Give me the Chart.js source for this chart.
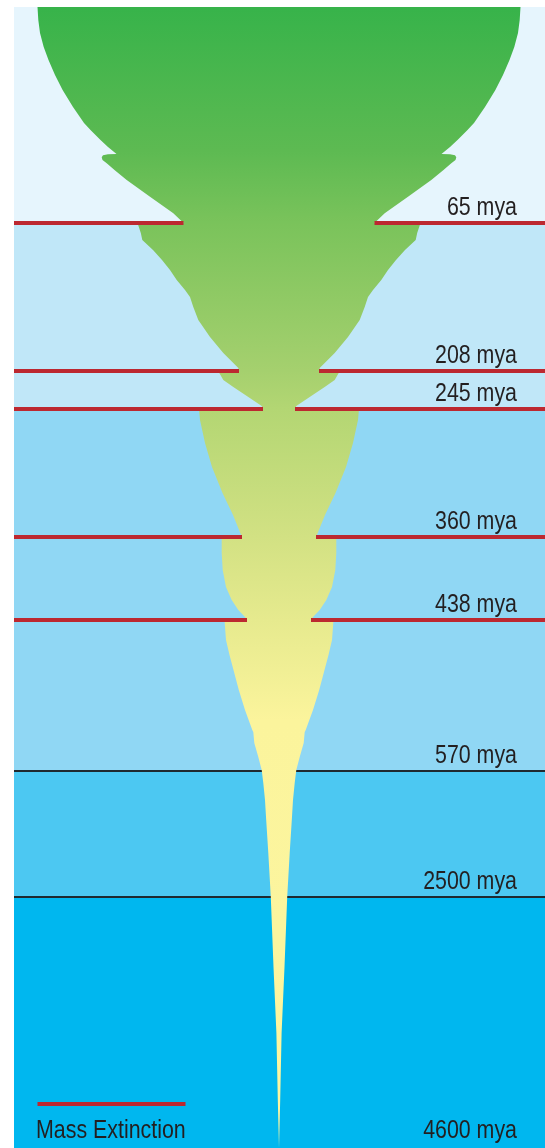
<!DOCTYPE html>
<html>
<head>
<meta charset="utf-8">
<title>Diversidad de la vida</title>
<script src="https://cdn.jsdelivr.net/npm/chart.js@4.4.1/dist/chart.umd.min.js"></script>
<style>
  html, body { margin: 0; padding: 0; background: #fff; }
  #area-grafico { display: block; }
</style>
</head>
<body>
<canvas id="area-grafico" width="545" height="1148"></canvas>
<script>
// eventos (posicion vertical en el dibujo, no a escala)
const eventLabels = ['65 mya', '208 mya', '245 mya', '360 mya', '438 mya', '570 mya', '2500 mya', '4600 mya'];
const eventY = [223, 371, 409, 537, 620, 771, 897, 1148];
const eventExtinction = [true, true, true, true, true, false, false, false];
const extinctionGap = [95.5, 40, 16, 37, 32, 0, 0, 0];

// franjas de fondo
const bandTop = [7, 223, 409, 771, 897];
const bandColors = ['#e6f5fd', '#c0e7f8', '#90d7f4', '#4cc8f2', '#00b7ef'];

// perfil del "huso": medio ancho por altura
const profileY = [
  7, 20, 33, 47, 60, 75, 90, 107, 123, 130, 140, 147, 154,
  154.3, 155.3, 157.3, 160, 163.3, 170, 180, 196.7, 213.3, 223,
  223, 233, 240, 250, 260, 270, 280, 290, 297, 307, 320, 337, 353, 368, 371,
  371, 373, 380, 387, 397, 406, 409,
  409, 420, 443, 467, 493, 515, 537,
  537, 553, 570, 587, 600, 610, 617, 620,
  620, 640, 655, 670, 690, 710, 730, 732, 743, 757, 770, 783, 800, 820, 853, 897, 967, 1033, 1100, 1148
];
const profileHalfWidth = [
  241.5, 240.7, 239, 235.3, 230.5, 224, 216.4, 206, 195, 188.5, 178.5, 171, 162.5,
  171, 176, 177.3, 176.5, 172.3, 164.5, 152.3, 129, 105.7, 95.5,
  141.5, 138.2, 136.7, 126, 117, 109, 102.3, 94, 89, 85.7, 80.7, 69, 55.7, 40.7, 40,
  59.7, 59.7, 55.7, 45.7, 30.7, 17.3, 16,
  80, 79, 74, 67, 56.5, 46, 37.1,
  57.3, 57.3, 56.3, 53, 47.3, 40.7, 34, 32,
  54.5, 53, 49.5, 45.5, 40.2, 34, 26.7, 25.7, 24.7, 20.7, 17.3, 15.7, 14, 12.8, 10.7, 8.2, 5.5, 2.6, 1.2, 0
];

const gradientY = [7, 150, 223, 371, 409, 537, 620, 720, 1148];
const gradientColors = ['#37b34a', '#5dba52', '#7ac35b', '#a5d06e', '#b3d673', '#d2e183', '#e6ea8e', '#fbf49c', '#fdf6a0'];

const centro = 279;
const izq = 14;
const der = 545;
const alto = 1148;

function degradado(context) {
    const chart = context.chart;
    if (!chart.chartArea) return gradientColors[3];
    const y = chart.scales.y;
    const y0 = y.getPixelForValue(gradientY[0]);
    const y1 = y.getPixelForValue(gradientY[gradientY.length - 1]);
    const g = chart.ctx.createLinearGradient(0, y0, 0, y1);
    gradientY.forEach((v, i) => {
        g.addColorStop((y.getPixelForValue(v) - y0) / (y1 - y0), gradientColors[i]);
    });
    return g;
}

// franjas
const datasets = [];
bandTop.forEach((top, i) => {
    const bottom = i < bandTop.length - 1 ? bandTop[i + 1] : alto;
    datasets.push({
        data: [{x: izq, y: top}, {x: der, y: top}, {x: der, y: bottom}, {x: izq, y: bottom}],
        fill: 'shape',
        backgroundColor: bandColors[i],
        borderColor: 'transparent',
        borderWidth: 0,
        order: 3
    });
});

// lineas negras
const negras = [];
eventY.forEach((yy, i) => {
    if (eventExtinction[i] || i === eventY.length - 1) return;
    negras.push({x: izq, y: yy}, {x: der, y: yy}, {x: null, y: null});
});
datasets.push({
    data: negras,
    borderColor: '#1f2a30',
    borderWidth: 2,
    borderCapStyle: 'butt',
    fill: false,
    order: 2
});

// contorno del huso
const contorno = [];
profileY.forEach((yy, i) => contorno.push({x: centro - profileHalfWidth[i], y: yy}));
for (let i = profileY.length - 1; i >= 0; i--) {
    contorno.push({x: centro + profileHalfWidth[i], y: profileY[i]});
}
datasets.push({
    data: contorno,
    fill: 'shape',
    backgroundColor: degradado,
    borderColor: 'transparent',
    borderWidth: 0,
    order: 1
});

// extinciones masivas
const rojas = [];
eventY.forEach((yy, i) => {
    if (!eventExtinction[i]) return;
    rojas.push({x: izq, y: yy}, {x: centro - extinctionGap[i], y: yy}, {x: null, y: null});
    rojas.push({x: centro + extinctionGap[i], y: yy}, {x: der, y: yy}, {x: null, y: null});
});
datasets.push({
    data: rojas,
    borderColor: '#bc2830',
    borderWidth: 4,
    borderCapStyle: 'butt',
    fill: false,
    order: 0
});

// texto angosto (no hay fuente condensada instalada)
function textoAngosto(ctx, t, px, py) {
    ctx.save();
    ctx.translate(px, py);
    ctx.scale(0.855, 1);
    ctx.fillText(t, 0, 0);
    ctx.restore();
}

const textos = {
    id: 'textos',
    afterDatasetsDraw(chart) {
        const {ctx, scales: {x, y}} = chart;
        ctx.save();
        ctx.font = '25px "Liberation Sans", Arial, sans-serif';
        ctx.fillStyle = '#231f20';
        ctx.textBaseline = 'alphabetic';
        ctx.textAlign = 'right';
        eventLabels.forEach((t, i) => {
            const off = i === eventLabels.length - 1 ? 10 : 8;
            textoAngosto(ctx, t, x.getPixelForValue(517), y.getPixelForValue(eventY[i]) - off);
        });
        // leyenda
        ctx.strokeStyle = '#bc2830';
        ctx.lineWidth = 4;
        ctx.beginPath();
        ctx.moveTo(x.getPixelForValue(37.5), y.getPixelForValue(1104));
        ctx.lineTo(x.getPixelForValue(185.5), y.getPixelForValue(1104));
        ctx.stroke();
        ctx.textAlign = 'left';
        textoAngosto(ctx, 'Mass Extinction', x.getPixelForValue(36), y.getPixelForValue(1138));
        ctx.restore();
    }
};

const myChart = new Chart(document.getElementById('area-grafico'), {
    type: 'line',
    data: {datasets: datasets},
    options: {
        responsive: false,
        animation: false,
        events: [],
        layout: {padding: 0},
        elements: {point: {radius: 0, hoverRadius: 0}, line: {tension: 0}},
        plugins: {legend: {display: false}, tooltip: {enabled: false}},
        scales: {
            x: {type: 'linear', min: 0, max: der, display: false},
            y: {type: 'linear', min: 0, max: alto, reverse: true, display: false}
        }
    },
    plugins: [textos]
});
</script>
</body>
</html>
